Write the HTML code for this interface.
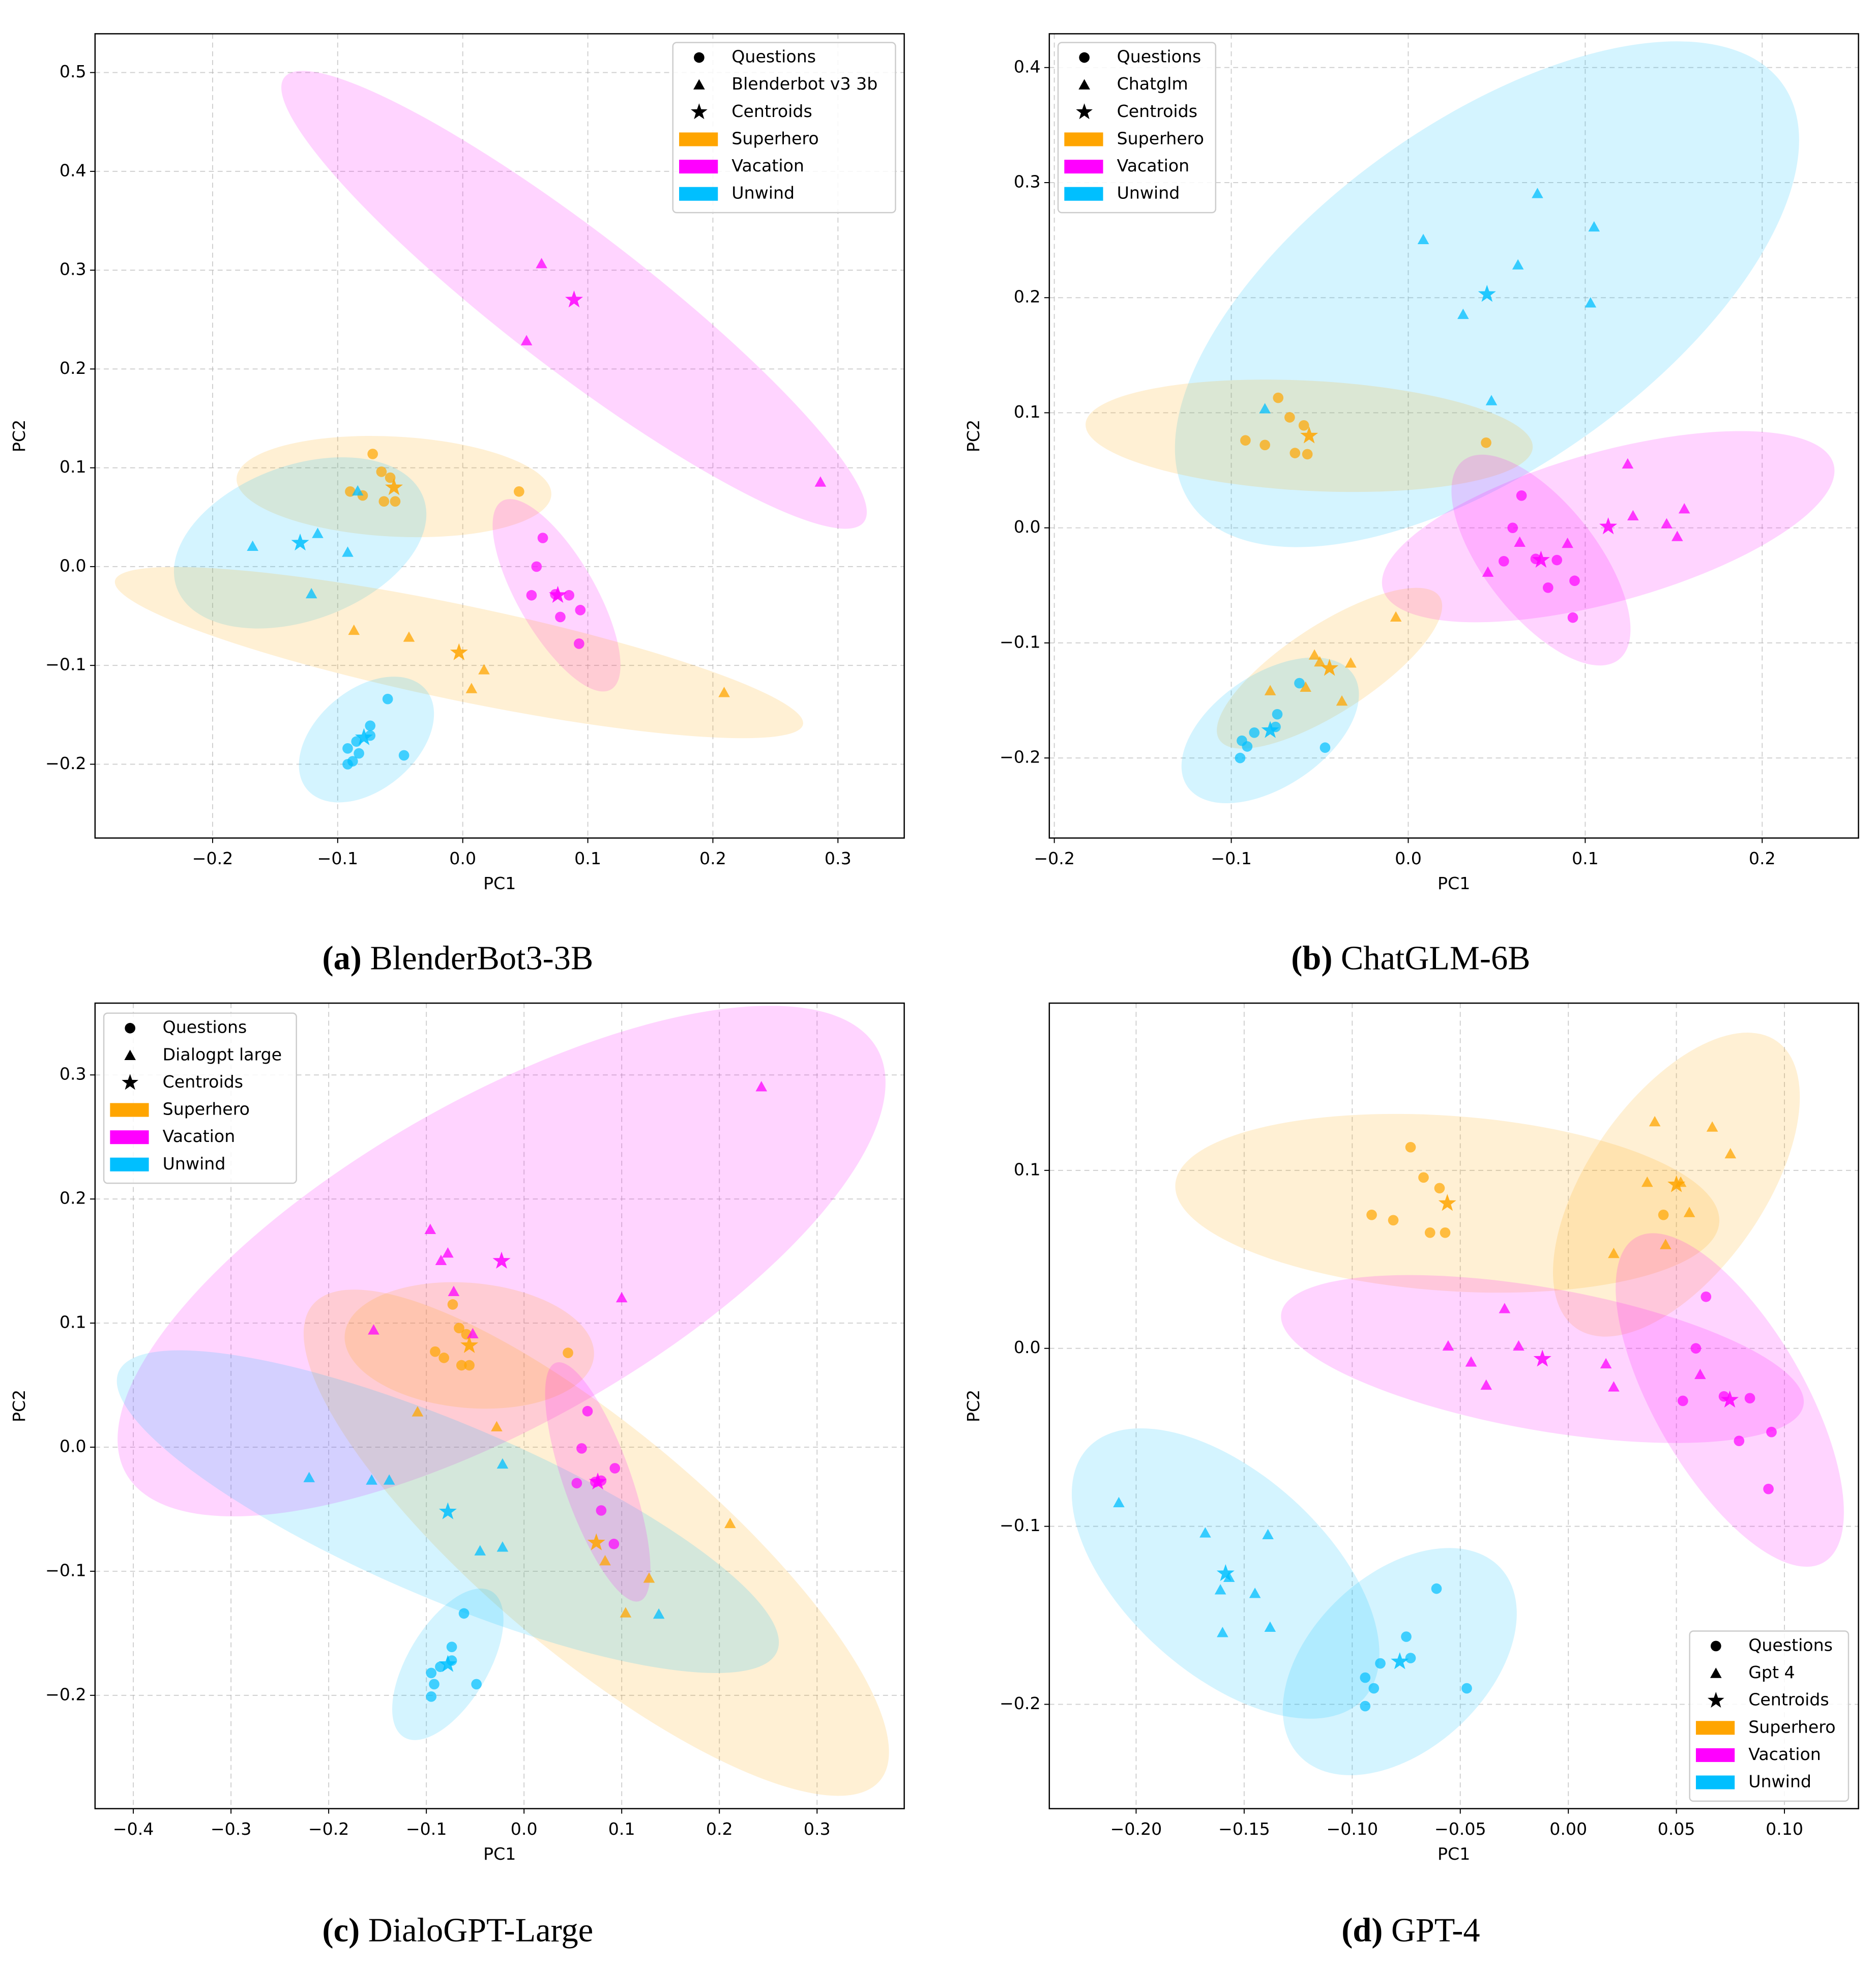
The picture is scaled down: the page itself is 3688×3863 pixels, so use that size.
<!DOCTYPE html>
<html><head><meta charset="utf-8"><style>
html,body{margin:0;padding:0;background:#fff}
svg{display:block}
text{font-family:"DejaVu Sans","Liberation Sans",sans-serif}
.cap{font-family:"Liberation Serif",serif;font-size:27px}
</style></head><body>
<svg id="fig" xmlns="http://www.w3.org/2000/svg" width="3688" height="3863" viewBox="0 0 1500 1571" preserveAspectRatio="none">
<rect width="1500" height="1571" fill="#fff"/>
<text class="cap" x="366" y="775" text-anchor="middle"><tspan font-weight="bold">(a)</tspan> BlenderBot3-3B</text>
<text class="cap" x="1128" y="775" text-anchor="middle"><tspan font-weight="bold">(b)</tspan> ChatGLM-6B</text>
<text class="cap" x="366" y="1552" text-anchor="middle"><tspan font-weight="bold">(c)</tspan> DialoGPT-Large</text>
<text class="cap" x="1128" y="1552" text-anchor="middle"><tspan font-weight="bold">(d)</tspan> GPT-4</text>
</svg>
<script>
// ---------- Panel A: BlenderBot ----------
const a_xticks=[-0.2,-0.1,0.0,0.1,0.2,0.3];
const a_yticks=[-0.2,-0.1,0.0,0.1,0.2,0.3,0.4,0.5];
const a_sup_q=[[-0.072,0.114],[-0.065,0.096],[-0.058,0.090],[-0.090,0.076],[-0.080,0.072],[-0.063,0.066],[-0.054,0.066],[0.045,0.076]];
const a_sup_m=[[-0.087,-0.065],[-0.043,-0.072],[0.017,-0.105],[0.007,-0.124],[0.209,-0.128]];
const a_vac_q=[[0.064,0.029],[0.059,0.0],[0.055,-0.029],[0.074,-0.028],[0.085,-0.029],[0.078,-0.051],[0.094,-0.044],[0.093,-0.078]];
const a_vac_m=[[0.063,0.306],[0.051,0.228],[0.286,0.085]];
const a_unw_q=[[-0.060,-0.134],[-0.074,-0.161],[-0.074,-0.171],[-0.085,-0.177],[-0.092,-0.184],[-0.083,-0.189],[-0.088,-0.197],[-0.092,-0.200],[-0.047,-0.191]];
const a_unw_m=[[-0.168,0.020],[-0.116,0.033],[-0.092,0.014],[-0.121,-0.028],[-0.084,0.076]];
const a_centroids=[["sup",-0.055,0.080],["sup",-0.003,-0.087],["vac",0.076,-0.029],["vac",0.089,0.270],["unw",-0.079,-0.173],["unw",-0.130,0.024]];
// ellipses: [group, cx, cy, rx(px), ry(px), angle]
const a_ellipses=[["vac",0.089,0.270,292,55,37.5],["sup",-0.055,0.081,126,40,3],["unw",-0.130,0.024,105,62,-20],["vac",0.075,-0.029,87,31,60],["sup",-0.003,-0.087,281,38,11.8],["unw",-0.077,-0.175,62,40,-40]];

// ---------- Panel B: ChatGLM ----------
const b_xticks=[-0.2,-0.1,0.0,0.1,0.2];
const b_yticks=[-0.2,-0.1,0.0,0.1,0.2,0.3,0.4];
const b_sup_q=[[-0.0735,0.113],[-0.067,0.096],[-0.059,0.089],[-0.092,0.076],[-0.081,0.072],[-0.064,0.065],[-0.057,0.064],[0.044,0.074]];
const b_sup_m=[[-0.007,-0.078],[-0.053,-0.111],[-0.0325,-0.118],[-0.050,-0.117],[-0.078,-0.142],[-0.058,-0.139],[-0.0375,-0.151]];
const b_vac_q=[[0.064,0.028],[0.059,0.0],[0.054,-0.029],[0.072,-0.027],[0.084,-0.028],[0.079,-0.052],[0.094,-0.046],[0.093,-0.078]];
const b_vac_m=[[0.124,0.055],[0.127,0.010],[0.156,0.016],[0.146,0.003],[0.152,-0.008],[0.063,-0.013],[0.090,-0.014],[0.045,-0.039]];
const b_unw_q=[[-0.0615,-0.135],[-0.074,-0.162],[-0.075,-0.173],[-0.087,-0.178],[-0.094,-0.185],[-0.091,-0.190],[-0.095,-0.200],[-0.047,-0.191]];
const b_unw_m=[[0.073,0.290],[0.0085,0.250],[0.105,0.261],[0.062,0.228],[0.103,0.195],[0.031,0.185],[0.047,0.110],[-0.081,0.103]];
const b_centroids=[["sup",-0.056,0.080],["sup",-0.0445,-0.122],["vac",0.075,-0.028],["vac",0.113,0.001],["unw",-0.078,-0.176],["unw",0.0445,0.203]];
const b_ellipses=[["unw",0.0445,0.203,290,138,-35.4],["sup",-0.056,0.080,179,44,3],["vac",0.113,0.001,187,60,-15.5],["vac",0.075,-0.028,101,45,52],["sup",-0.0445,-0.122,105,35,-33],["unw",-0.078,-0.176,80,45,-34]];

// ---------- Panel C: DialoGPT ----------
const c_xticks=[-0.4,-0.3,-0.2,-0.1,0.0,0.1,0.2,0.3];
const c_yticks=[-0.2,-0.1,0.0,0.1,0.2,0.3];
const c_sup_q=[[-0.073,0.115],[-0.0665,0.096],[-0.059,0.091],[-0.091,0.077],[-0.082,0.072],[-0.064,0.066],[-0.056,0.066],[0.045,0.076]];
const c_sup_m=[[-0.109,0.028],[-0.028,0.016],[0.083,-0.092],[0.128,-0.106],[0.211,-0.062],[0.104,-0.134]];
const c_vac_q=[[0.065,0.029],[0.059,-0.001],[0.054,-0.029],[0.079,-0.027],[0.093,-0.017],[0.079,-0.051],[0.092,-0.078],[0.073,-0.028]];
const c_vac_m=[[0.243,0.290],[-0.096,0.175],[-0.078,0.156],[-0.085,0.150],[-0.072,0.125],[-0.0525,0.091],[-0.154,0.094],[0.100,0.120]];
const c_unw_q=[[-0.0615,-0.134],[-0.074,-0.161],[-0.074,-0.172],[-0.0858,-0.177],[-0.095,-0.182],[-0.092,-0.191],[-0.095,-0.201],[-0.0487,-0.191]];
const c_unw_m=[[-0.220,-0.025],[-0.156,-0.027],[-0.138,-0.027],[-0.022,-0.014],[-0.045,-0.084],[-0.022,-0.081],[0.138,-0.135]];
const c_centroids=[["sup",-0.056,0.082],["sup",0.074,-0.077],["vac",0.0755,-0.028],["vac",-0.023,0.150],["unw",-0.078,-0.175],["unw",-0.078,-0.052]];
const c_ellipses=[["vac",-0.023,0.150,345,130,-29.5],["sup",-0.056,0.082,100,50,5],["sup",0.074,-0.077,296,90,40],["unw",-0.078,-0.052,286,70,23],["vac",0.0755,-0.028,101,27,70.6],["unw",-0.078,-0.175,68,32,-59]];

// ---------- Panel D: GPT-4 ----------
const d_xticks=[-0.20,-0.15,-0.10,-0.05,0.00,0.05,0.10];
const d_yticks=[-0.2,-0.1,0.0,0.1];
const d_sup_q=[[-0.073,0.113],[-0.067,0.096],[-0.0596,0.090],[-0.091,0.075],[-0.081,0.072],[-0.064,0.065],[-0.057,0.065],[0.044,0.075]];
const d_sup_m=[[0.040,0.127],[0.0666,0.124],[0.075,0.109],[0.0365,0.093],[0.052,0.093],[0.056,0.076],[0.021,0.053],[0.045,0.058]];
const d_vac_q=[[0.0637,0.029],[0.059,0.0],[0.053,-0.0295],[0.072,-0.027],[0.084,-0.028],[0.079,-0.052],[0.094,-0.047],[0.0926,-0.079]];
const d_vac_m=[[-0.0295,0.022],[-0.0556,0.001],[-0.023,0.001],[-0.045,-0.008],[-0.038,-0.021],[0.0174,-0.009],[0.021,-0.022],[0.061,-0.015]];
const d_unw_q=[[-0.061,-0.135],[-0.075,-0.162],[-0.073,-0.174],[-0.087,-0.177],[-0.094,-0.185],[-0.090,-0.191],[-0.094,-0.201],[-0.047,-0.191]];
const d_unw_m=[[-0.208,-0.087],[-0.168,-0.104],[-0.139,-0.105],[-0.157,-0.129],[-0.161,-0.136],[-0.145,-0.138],[-0.160,-0.160],[-0.138,-0.157]];
const d_centroids=[["sup",-0.056,0.0815],["sup",0.050,0.092],["vac",0.0747,-0.029],["vac",-0.012,-0.006],["unw",-0.078,-0.176],["unw",-0.1586,-0.1265]];
const d_ellipses=[["sup",-0.056,0.0815,218,70,4],["sup",0.050,0.092,140,70,-55],["vac",-0.012,-0.006,212,57,10],["vac",0.0747,-0.029,150,60,60],["unw",-0.1586,-0.1265,149,80,42],["unw",-0.078,-0.176,110,70,-43]];

const COL={sup:"#FFA500",vac:"#FF00FF",unw:"#00BFFF"};
const NS="http://www.w3.org/2000/svg";
const svg=document.getElementById('fig');
function mk(tag,attrs,parent){const e=document.createElementNS(NS,tag);for(const k in attrs)e.setAttribute(k,attrs[k]);(parent||svg).appendChild(e);return e;}
function fmt(v,d){let s=Math.abs(v).toFixed(d);return (v<-1e-9?"\u2212":"")+s;}
function triPts(x,y,s){return `${x},${y-s*1.1} ${x+s},${y+s*0.7} ${x-s},${y+s*0.7}`;}
function starPts(x,y,R){let r=R*0.4,p=[];for(let i=0;i<10;i++){const a=-Math.PI/2+i*Math.PI/5;const rr=i%2?r:R;p.push((x+rr*Math.cos(a)).toFixed(2)+","+(y+rr*Math.sin(a)).toFixed(2));}return p.join(" ");}

function panel(id,P){
  const g=mk('g',{});
  
  
  const X=v=>P.xc+v*P.xs, Y=v=>P.yc-v*P.ys;
  const [L,T,R,B]=P.frame;
  const cp=mk('clipPath',{id:'clip'+id},g);mk('rect',{x:L,y:T,width:R-L,height:B-T},cp);
  P.xt.forEach(v=>{const l=mk('line',{x1:X(v),x2:X(v),y1:T,y2:B,stroke:'#b0b0b0','stroke-width':0.8,'stroke-dasharray':'4,3','stroke-opacity':0.6},g);
    });
  P.yt.forEach(v=>{const l=mk('line',{x1:L,x2:R,y1:Y(v),y2:Y(v),stroke:'#b0b0b0','stroke-width':0.8,'stroke-dasharray':'4,3','stroke-opacity':0.6},g);
    });
  const pg=mk('g',{'clip-path':`url(#clip${id})`},g);
  P.ell.forEach(e=>{const el=mk('ellipse',{cx:0,cy:0,rx:e[3],ry:e[4],fill:COL[e[0]],'fill-opacity':0.17,transform:`translate(${X(e[1])},${Y(e[2])}) rotate(${e[5]})`},pg);
    });
  const series=[["sup",P.sq,"q"],["sup",P.sm,"m"],["vac",P.vq,"q"],["vac",P.vm,"m"],["unw",P.uq,"q"],["unw",P.um,"m"]];
  series.forEach(s=>{s[1].forEach(p=>{let el;
    if(s[2]=="q"){el=mk('circle',{cx:X(p[0]),cy:Y(p[1]),r:4.2,fill:COL[s[0]],'fill-opacity':0.7},pg);
      }
    else{el=mk('polygon',{points:triPts(X(p[0]),Y(p[1]),4.6),fill:COL[s[0]],'fill-opacity':0.75},pg);
      }
    });});
  P.cen.forEach(c=>{const el=mk('polygon',{points:starPts(X(c[1]),Y(c[2]),7.5),fill:COL[c[0]],'fill-opacity':0.85},pg);
    });
  const fr=mk('rect',{x:L,y:T,width:R-L,height:B-T,fill:'none',stroke:'#000','stroke-width':1},g);
  
  P.xt.forEach(v=>{mk('line',{x1:X(v),x2:X(v),y1:B,y2:B+4,stroke:'#000','stroke-width':0.8},g);
    const t=mk('text',{x:X(v),y:B+17,'font-size':13.5,'text-anchor':'middle','dominant-baseline':'middle'},g);t.textContent=fmt(v,P.xd);
    });
  P.yt.forEach(v=>{mk('line',{x1:L-4,x2:L,y1:Y(v),y2:Y(v),stroke:'#000','stroke-width':0.8},g);
    const t=mk('text',{x:L-7,y:Y(v),'font-size':13.5,'text-anchor':'end','dominant-baseline':'middle'},g);t.textContent=fmt(v,1);
    });
  const xl=mk('text',{x:(L+R)/2,y:B+37,'font-size':13.5,'text-anchor':'middle','dominant-baseline':'middle'},g);xl.textContent='PC1';
  
  const yl=mk('text',{x:0,y:0,'font-size':13.5,'text-anchor':'middle','dominant-baseline':'middle',transform:`translate(${L-60},${(T+B)/2}) rotate(-90)`},g);yl.textContent='PC2';
  
  const [lx,ly,lw]=P.leg;
  const lg=mk('g',{},g);
  
  mk('rect',{x:lx,y:ly,width:lw,height:136,rx:3,fill:'#fff','fill-opacity':0.85,stroke:'#cccccc','stroke-width':1},lg);
  const labels=['Questions',P.model,'Centroids','Superhero','Vacation','Unwind'];
  labels.forEach((s,i)=>{const yy=ly+12+i*21.8, mx=lx+21;
    let m;
    if(i==0)m=mk('circle',{cx:mx,cy:yy,r:4.2,fill:'#000'},lg);
    else if(i==1)m=mk('polygon',{points:triPts(mx,yy+0.5,4.6),fill:'#000'},lg);
    else if(i==2)m=mk('polygon',{points:starPts(mx,yy,7),fill:'#000'},lg);
    else m=mk('rect',{x:mx-16,y:yy-5.5,width:31,height:11,fill:COL[['sup','vac','unw'][i-3]]},lg);
    
    const t=mk('text',{x:lx+47,y:yy,'font-size':13.5,'dominant-baseline':'middle'},lg);t.textContent=s;
    });
}
panel('a',{frame:[76,27,723,670],xc:370,xs:1000,yc:453,ys:790,xt:a_xticks,yt:a_yticks,xd:1,sq:a_sup_q,sm:a_sup_m,vq:a_vac_q,vm:a_vac_m,uq:a_unw_q,um:a_unw_m,cen:a_centroids,ell:a_ellipses,leg:[538,34,178],model:'Blenderbot v3 3b'});
panel('b',{frame:[839,27,1486,670],xc:1126,xs:1415,yc:422,ys:920,xt:b_xticks,yt:b_yticks,xd:1,sq:b_sup_q,sm:b_sup_m,vq:b_vac_q,vm:b_vac_m,uq:b_unw_q,um:b_unw_m,cen:b_centroids,ell:b_ellipses,leg:[846,34,126],model:'Chatglm'});
panel('c',{frame:[76,802,723,1446],xc:419,xs:781,yc:1157,ys:992,xt:c_xticks,yt:c_yticks,xd:1,sq:c_sup_q,sm:c_sup_m,vq:c_vac_q,vm:c_vac_m,uq:c_unw_q,um:c_unw_m,cen:c_centroids,ell:c_ellipses,leg:[83,810,154],model:'Dialogpt large'});
panel('d',{frame:[839,802,1486,1446],xc:1254,xs:1728,yc:1078,ys:1423,xt:d_xticks,yt:d_yticks,xd:2,sq:d_sup_q,sm:d_sup_m,vq:d_vac_q,vm:d_vac_m,uq:d_unw_q,um:d_unw_m,cen:d_centroids,ell:d_ellipses,leg:[1351,1304,127],model:'Gpt 4'});
</script>
</body></html>
